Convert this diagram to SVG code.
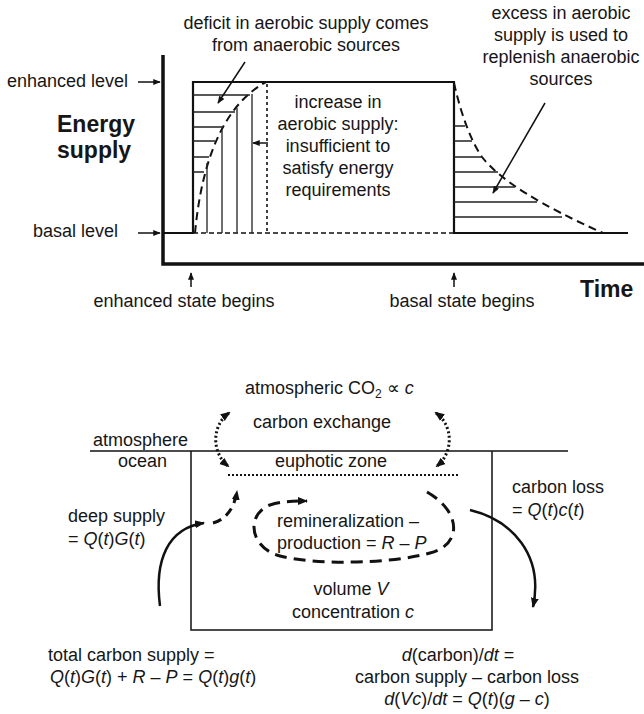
<svg xmlns="http://www.w3.org/2000/svg" width="644" height="714" viewBox="0 0 644 714">
<style>
text{font-family:"Liberation Sans",Arial,sans-serif;font-size:18px;fill:#161616}
.b{font-weight:bold;font-size:23px}
.i{font-style:italic}
.m{text-anchor:middle}
.ln{stroke:#111;fill:none}
.h{stroke:#222;stroke-width:1.3;fill:none}
</style>
<defs>
<marker id="ah" viewBox="0 0 10 8" refX="9" refY="4" markerWidth="10" markerHeight="8" markerUnits="userSpaceOnUse" orient="auto"><path d="M0,0 L10,4 L0,8 z" fill="#111"/></marker>
<marker id="as" viewBox="0 0 10 8" refX="9" refY="4" markerWidth="8" markerHeight="6" markerUnits="userSpaceOnUse" orient="auto"><path d="M0,0 L10,4 L0,8 z" fill="#111"/></marker>
<marker id="ad" viewBox="0 0 10 8" refX="8" refY="4" markerWidth="10" markerHeight="9" markerUnits="userSpaceOnUse" orient="auto-start-reverse"><path d="M0,0 L10,4 L0,8 z" fill="#111"/></marker>
</defs>

<g id="chart-top">
  <path class="ln" d="M163,55 V264 H644" stroke-width="3.5"/>
  <path class="ln" d="M163,233 H193 V82 H454 V233 H628" stroke-width="2.2"/>
  <path class="ln" d="M193,233 H454" stroke-width="1.4" stroke-dasharray="5,3"/>
  <path class="ln" d="M267,84 V233" stroke-width="1.6" stroke-dasharray="3,3"/>
  <path class="ln" d="M195,233 C200,180 215,110 266,82" stroke-width="2" stroke-dasharray="8,5"/>
  <path class="ln" d="M454,83 C460,110 470,140 482,157 C500,180 540,205 603,233" stroke-width="2" stroke-dasharray="8,5"/>
  <g id="hatch-left">
    <path class="h" d="M193,95 H250 M193,112 H235 M193,127 H224 M193,141 H215 M193,157 H209 M193,172 H204"/>
    <path class="h" d="M207,163 V233 M222,130 V233 M237,108 V233 M252,94 V233"/>
  </g>
  <g id="hatch-right">
    <path class="h" d="M454,126 H465 M454,141 H472 M454,157 H482 M454,172 H498 M454,187 H515 M454,202 H537 M454,217 H562"/>
  </g>
</g>

<g id="labels-top">
  <text x="7" y="87">enhanced level</text>
  <text x="33" y="237">basal level</text>
  <text class="b" x="57" y="132">Energy</text>
  <text class="b" x="57" y="158">supply</text>
  <text class="b" x="580" y="297">Time</text>
  <text class="m" x="184" y="307">enhanced state begins</text>
  <text class="m" x="462" y="307">basal state begins</text>
  <text class="m" x="306" y="29">deficit in aerobic supply comes</text>
  <text class="m" x="306" y="51">from anaerobic sources</text>
  <text class="m" x="338" y="108">increase in</text>
  <text class="m" x="338" y="130">aerobic supply:</text>
  <text class="m" x="338" y="152">insufficient to</text>
  <text class="m" x="338" y="174">satisfy energy</text>
  <text class="m" x="338" y="196">requirements</text>
  <text class="m" x="561" y="19">excess in aerobic</text>
  <text class="m" x="561" y="41">supply is used to</text>
  <text class="m" x="561" y="63">replenish anaerobic</text>
  <text class="m" x="561" y="85">sources</text>
</g>

<g id="connectors-top">
  <path class="ln" d="M138,82 H160" stroke-width="1.5" marker-end="url(#as)"/>
  <path class="ln" d="M138,233 H160" stroke-width="1.5" marker-end="url(#as)"/>
  <path class="ln" d="M191,287 V273" stroke-width="1.5" marker-end="url(#as)"/>
  <path class="ln" d="M454,287 V273" stroke-width="1.5" marker-end="url(#as)"/>
  <path class="ln" d="M245,62 L218,103" stroke-width="1.5" marker-end="url(#as)"/>
  <path class="ln" d="M268,143 H253" stroke-width="1.5" marker-end="url(#as)"/>
  <path class="ln" d="M545,103 L493,193" stroke-width="1.5" marker-end="url(#as)"/>
</g>

<g id="ocean-box">
  <path class="ln" d="M90,451 H568" stroke-width="1.5"/>
  <path class="ln" d="M191,451 V630 H492 V451" stroke-width="1.5"/>
  <path class="ln" d="M228,475 H460" stroke-width="2" stroke-dasharray="2,2"/>
</g>

<g id="labels-bottom">
  <text x="245" y="394">atmospheric CO<tspan font-size="12" dy="4">2</tspan><tspan dy="-4"> ∝ </tspan><tspan class="i">c</tspan></text>
  <text x="253" y="428">carbon exchange</text>
  <text x="93" y="446">atmosphere</text>
  <text x="118" y="467">ocean</text>
  <text x="275" y="467">euphotic zone</text>
  <text x="68" y="522">deep supply</text>
  <text x="68" y="545">= <tspan class="i">Q</tspan>(<tspan class="i">t</tspan>)<tspan class="i">G</tspan>(<tspan class="i">t</tspan>)</text>
  <text x="277" y="527">remineralization –</text>
  <text x="277" y="549">production = <tspan class="i">R</tspan> – <tspan class="i">P</tspan></text>
  <text class="m" x="351" y="595">volume <tspan class="i">V</tspan></text>
  <text class="m" x="353" y="618">concentration <tspan class="i">c</tspan></text>
  <text x="512" y="493">carbon loss</text>
  <text x="512" y="516">= <tspan class="i">Q</tspan>(<tspan class="i">t</tspan>)<tspan class="i">c</tspan>(<tspan class="i">t</tspan>)</text>
  <text x="48" y="661">total carbon supply =</text>
  <text x="50" y="683"><tspan class="i">Q</tspan>(<tspan class="i">t</tspan>)<tspan class="i">G</tspan>(<tspan class="i">t</tspan>) + <tspan class="i">R</tspan> – <tspan class="i">P</tspan> = <tspan class="i">Q</tspan>(<tspan class="i">t</tspan>)<tspan class="i">g</tspan>(<tspan class="i">t</tspan>)</text>
  <text class="m" x="458" y="661"><tspan class="i">d</tspan>(carbon)/<tspan class="i">dt</tspan> =</text>
  <text class="m" x="467" y="683">carbon supply – carbon loss</text>
  <text class="m" x="467" y="705"><tspan class="i">d</tspan>(<tspan class="i">Vc</tspan>)/<tspan class="i">dt</tspan> = <tspan class="i">Q</tspan>(<tspan class="i">t</tspan>)(<tspan class="i">g</tspan> – <tspan class="i">c</tspan>)</text>
</g>

<g id="connectors-bottom">
  <path class="ln" d="M229,413 C212,425 211,452 228,466" stroke-width="3" stroke-dasharray="2,2.5" marker-start="url(#ad)" marker-end="url(#ad)"/>
  <path class="ln" d="M436,413 C453,425 454,452 437,466" stroke-width="3" stroke-dasharray="2,2.5" marker-start="url(#ad)" marker-end="url(#ad)"/>
  <path class="ln" d="M160,606 C154,560 168,528 204,523" stroke-width="2.5" marker-end="url(#ah)"/>
  <path class="ln" d="M213,523 C228,519 235,505 237,491" stroke-width="3" stroke-dasharray="9,6" marker-end="url(#ah)"/>
  <path class="ln" d="M427,492 C462,512 462,545 430,553 C395,563 320,566 280,556 C250,548 245,515 270,505 C282,501 295,501 307,501" stroke-width="3" stroke-dasharray="12,7" marker-end="url(#ah)"/>
  <path class="ln" d="M470,510 C512,520 544,555 533,607" stroke-width="2.5" marker-end="url(#ah)"/>
</g>
</svg>
